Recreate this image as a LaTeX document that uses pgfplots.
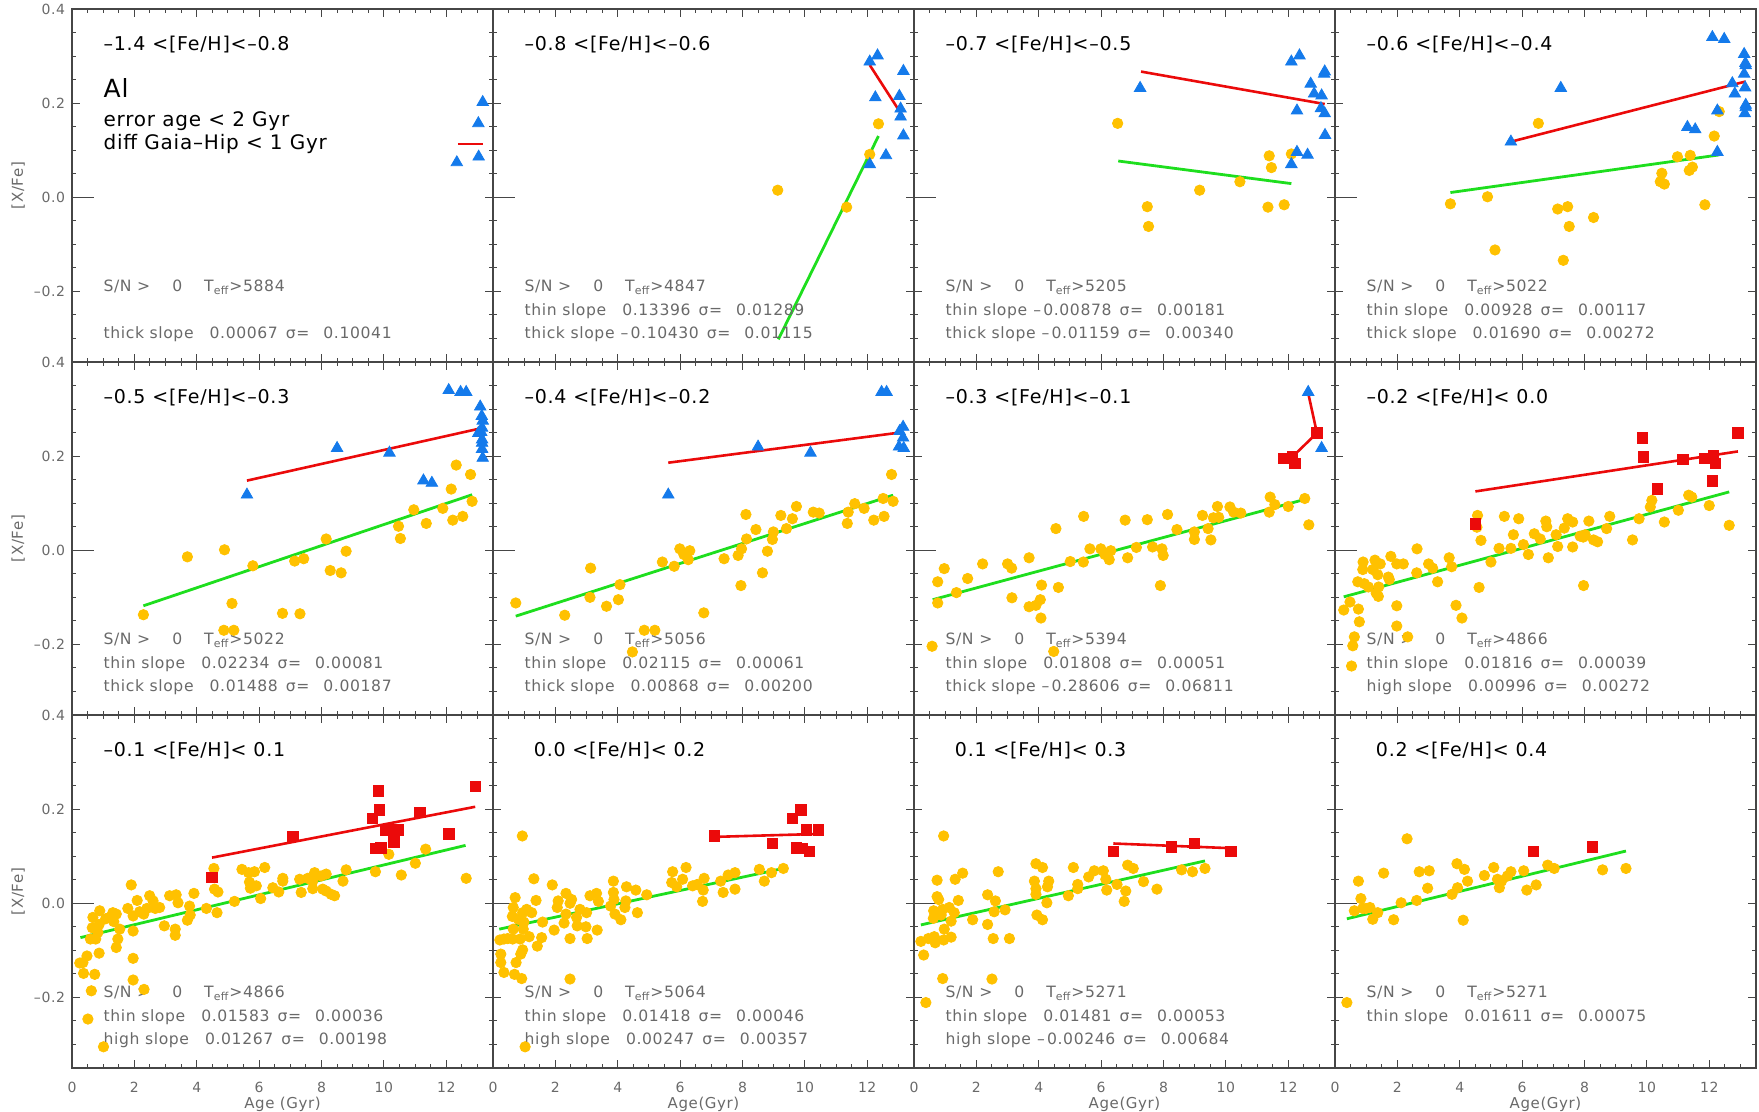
\documentclass[border=0pt]{standalone}
\usepackage{fontspec}
\setmainfont{DejaVu Sans}[LetterSpace=4]
\usepackage{pgfplots}
\pgfplotsset{compat=1.18}
\definecolor{cyel}{RGB}{255,193,0}
\definecolor{cblu}{RGB}{20,122,235}
\definecolor{cred}{RGB}{235,10,10}
\definecolor{cgrn}{RGB}{30,222,30}
\definecolor{ctxt}{RGB}{105,105,105}
\definecolor{axgray}{RGB}{70,70,70}
\newcommand{\pv}[1]{\makebox[5pt]{}#1}
\newcommand{\nv}[1]{\makebox[5pt][l]{–}#1}
\newcommand{\snl}[1]{S/N >\hspace{11pt}0\hspace{11pt}T\textsubscript{eff}>#1}
\newcommand{\slp}[3]{#1 slope\hspace{3pt}#2\hspace{4pt}σ=\hspace{7pt}#3}
\tikzset{
 ttl/.style={anchor=west, font=\fontsize{9.5}{11}\selectfont, text=black, inner sep=0pt},
 inf/.style={anchor=west, font=\fontsize{7.8}{9}\selectfont, text=ctxt, inner sep=0pt},
}
\pgfplotsset{
 panel/.style={
  scale only axis, width=210.5pt, height=176.5pt,
  xmin=0, xmax=13.5, ymin=-0.35, ymax=0.4,
  xtick={0,2,4,6,8,10,12},
  minor xtick={0.5,1,1.5,2.5,3,3.5,4.5,5,5.5,6.5,7,7.5,8.5,9,9.5,10.5,11,11.5,12.5,13,13.5},
  ytick={-0.2,0,0.2,0.4},
  minor ytick={-0.3,-0.25,-0.15,-0.1,-0.05,0.05,0.1,0.15,0.25,0.3,0.35},
  extra y ticks={0}, extra y tick labels={},
  extra y tick style={major tick length=11pt, ytick pos=left},
  tick align=inside, tick pos=both,
  xticklabel pos=lower, yticklabel pos=left,
  major tick length=4pt, minor tick length=2pt,
  axis line style={draw=axgray, line width=0.6pt},
  every tick/.append style={draw=axgray, line width=0.5pt},
  tick label style={font=\fontsize{7}{8}\selectfont, text=ctxt},
  xticklabel style={yshift=-3.5pt},
  label style={font=\fontsize{7.5}{9}\selectfont, text=ctxt},
  ylabel style={at={(axis description cs:-0.128,0.5)}, anchor=center},
  xlabel style={at={(axis description cs:0.5,0)}, anchor=center, yshift=-18pt},
  xticklabels={}, yticklabels={},
 },
 circ/.style={only marks, color=cyel, mark=*, mark size=2.6pt, mark options={solid, draw=cyel, fill=cyel}},
 tri/.style={only marks, color=cblu, mark=triangle*, mark size=3.3pt, mark options={solid, draw=cblu, fill=cblu}},
 sq/.style={only marks, color=cred, mark=square*, mark size=2.6pt, mark options={solid, draw=cred, fill=cred}},
 gl/.style={no marks, draw=cgrn, line width=1.4pt},
 rl/.style={no marks, draw=cred, line width=1.3pt},
 ylab/.style={yticklabels={–0.2,0.0,0.2,0.4}, ylabel={[X/Fe]}},
}
\begin{document}
\begin{tikzpicture}
\useasboundingbox (-36pt,4.5pt) rectangle (843.5pt,-551.5pt);
% ---------------- Row 1 ----------------
\begin{axis}[panel, ylab, at={(0pt,0pt)}, anchor=north west]
\addplot[tri] coordinates {(12.34,0.074) (13.03,0.157) (13.17,0.202) (13.04,0.086)};
\addplot[rl] coordinates {(12.37,0.113) (13.17,0.113)};
\node[ttl] at (axis cs:1.0,0.324) {–1.4 <[Fe/H]<–0.8};
\node[anchor=west, inner sep=0pt, font=\fontsize{12.5}{14}\selectfont] at (axis cs:1.0,0.232) {Al};
\node[anchor=west, inner sep=0pt, font=\fontsize{10}{12}\selectfont] at (axis cs:1.0,0.162) {error age < 2 Gyr};
\node[anchor=west, inner sep=0pt, font=\fontsize{10}{12}\selectfont] at (axis cs:1.0,0.113) {diff Gaia–Hip < 1 Gyr};
\node[inf] at (axis cs:1.0,-0.191) {\snl{5884}};
\node[inf] at (axis cs:1.0,-0.290) {\slp{thick}{\pv{0.00067}}{0.10041}};
\end{axis}
\begin{axis}[panel, at={(210.5pt,0pt)}, anchor=north west]
\addplot[circ] coordinates {(12.36,0.156) (12.08,0.091) (9.13,0.015) (11.34,-0.021)};
\addplot[tri] coordinates {(12.08,0.288) (12.33,0.301) (13.16,0.268) (12.26,0.212) (13.03,0.215) (13.07,0.188) (13.07,0.171) (13.16,0.131) (12.60,0.089) (12.08,0.070)};
\addplot[gl] coordinates {(9.15,-0.302) (12.36,0.130)};
\addplot[rl] coordinates {(12.08,0.281) (13.16,0.170)};
\node[ttl] at (axis cs:1.0,0.324) {–0.8 <[Fe/H]<–0.6};
\node[inf] at (axis cs:1.0,-0.191) {\snl{4847}};
\node[inf] at (axis cs:1.0,-0.242) {\slp{thin}{\pv{0.13396}}{0.01289}};
\node[inf] at (axis cs:1.0,-0.290) {\slp{thick}{\nv{0.10430}}{0.01115}};
\end{axis}
\begin{axis}[panel, at={(421pt,0pt)}, anchor=north west]
\addplot[circ] coordinates {(6.53,0.157) (11.39,0.088) (12.10,0.092) (11.46,0.063) (10.45,0.033) (9.16,0.015) (7.48,-0.020) (7.52,-0.062) (11.35,-0.021) (11.87,-0.016)};
\addplot[tri] coordinates {(12.10,0.288) (12.36,0.301) (13.15,0.262) (13.17,0.267) (12.72,0.241) (12.83,0.220) (13.07,0.216) (12.28,0.184) (13.05,0.189) (13.17,0.178) (13.18,0.132) (12.28,0.096) (12.62,0.090) (12.10,0.070) (7.25,0.232)};
\addplot[gl] coordinates {(6.55,0.077) (12.10,0.029)};
\addplot[rl] coordinates {(7.28,0.267) (13.17,0.198)};
\node[ttl] at (axis cs:1.0,0.324) {–0.7 <[Fe/H]<–0.5};
\node[inf] at (axis cs:1.0,-0.191) {\snl{5205}};
\node[inf] at (axis cs:1.0,-0.242) {\slp{thin}{\nv{0.00878}}{0.00181}};
\node[inf] at (axis cs:1.0,-0.290) {\slp{thick}{\nv{0.01159}}{0.00340}};
\end{axis}
\begin{axis}[panel, at={(631.5pt,0pt)}, anchor=north west]
\addplot[circ] coordinates {(6.52,0.157) (12.32,0.182) (12.16,0.130) (10.98,0.086) (11.39,0.089) (11.36,0.057) (11.46,0.064) (10.48,0.051) (10.43,0.033) (10.56,0.028) (11.86,-0.016) (3.70,-0.014) (4.89,0.001) (7.14,-0.025) (7.46,-0.020) (7.51,-0.062) (8.29,-0.043) (5.13,-0.112) (7.32,-0.134)};
\addplot[tri] coordinates {(12.10,0.340) (12.48,0.336) (13.12,0.304) (13.16,0.285) (13.17,0.280) (13.12,0.262) (12.74,0.242) (13.15,0.233) (12.82,0.220) (13.17,0.196) (13.17,0.191) (13.14,0.178) (12.26,0.184) (11.30,0.149) (11.55,0.144) (12.26,0.096) (7.24,0.232) (5.64,0.118)};
\addplot[gl] coordinates {(3.70,0.010) (12.32,0.090)};
\addplot[rl] coordinates {(5.64,0.118) (13.17,0.246)};
\node[ttl] at (axis cs:1.0,0.324) {–0.6 <[Fe/H]<–0.4};
\node[inf] at (axis cs:1.0,-0.191) {\snl{5022}};
\node[inf] at (axis cs:1.0,-0.242) {\slp{thin}{\pv{0.00928}}{0.00117}};
\node[inf] at (axis cs:1.0,-0.290) {\slp{thick}{\pv{0.01690}}{0.00272}};
\end{axis}
% ---------------- Row 2 ----------------
\begin{axis}[panel, ylab, at={(0pt,-176.5pt)}, anchor=north west]
\addplot[circ] coordinates {(12.32,0.181) (12.78,0.161) (12.16,0.130) (12.83,0.104) (11.89,0.089) (10.96,0.086) (11.36,0.057) (12.21,0.064) (12.53,0.072) (10.47,0.051) (10.53,0.025) (8.15,0.024) (8.79,-0.002) (8.28,-0.043) (8.63,-0.048) (7.14,-0.023) (7.43,-0.018) (5.80,-0.033) (4.89,0.001) (3.70,-0.014) (5.13,-0.113) (2.29,-0.137) (6.75,-0.134) (7.31,-0.135) (4.87,-0.170) (5.19,-0.170)};
\addplot[tri] coordinates {(12.08,0.340) (12.46,0.336) (12.64,0.336) (13.09,0.305) (13.14,0.285) (13.17,0.275) (13.15,0.260) (13.12,0.251) (13.03,0.249) (13.15,0.235) (13.15,0.228) (13.15,0.215) (13.17,0.196) (8.50,0.217) (10.18,0.207) (11.27,0.148) (11.54,0.143) (5.61,0.118)};
\addplot[gl] coordinates {(2.29,-0.118) (12.83,0.118)};
\addplot[rl] coordinates {(5.61,0.148) (13.17,0.260)};
\node[ttl] at (axis cs:1.0,0.324) {–0.5 <[Fe/H]<–0.3};
\node[inf] at (axis cs:1.0,-0.191) {\snl{5022}};
\node[inf] at (axis cs:1.0,-0.242) {\slp{thin}{\pv{0.02234}}{0.00081}};
\node[inf] at (axis cs:1.0,-0.290) {\slp{thick}{\pv{0.01488}}{0.00187}};
\end{axis}
\begin{axis}[panel, at={(210.5pt,-176.5pt)}, anchor=north west]
\addplot[circ] coordinates {(12.78,0.161) (12.51,0.110) (12.83,0.104) (11.60,0.099) (11.39,0.081) (11.90,0.089) (11.36,0.057) (12.21,0.064) (12.54,0.072) (9.73,0.093) (10.27,0.081) (10.46,0.079) (9.23,0.074) (9.60,0.067) (9.41,0.046) (8.99,0.039) (8.96,0.023) (8.11,0.076) (8.43,0.044) (8.13,0.024) (7.97,0.003) (7.86,-0.011) (7.41,-0.018) (8.80,-0.002) (8.64,-0.048) (7.95,-0.075) (5.99,0.003) (6.31,-0.001) (6.12,-0.009) (6.26,-0.020) (5.81,-0.034) (5.43,-0.025) (6.76,-0.133) (4.07,-0.073) (4.02,-0.105) (3.13,-0.038) (3.11,-0.100) (3.64,-0.119) (2.30,-0.138) (0.73,-0.112) (4.85,-0.170) (5.19,-0.170) (4.47,-0.216)};
\addplot[tri] coordinates {(12.46,0.336) (12.62,0.336) (13.15,0.262) (13.04,0.253) (13.15,0.239) (13.02,0.220) (13.17,0.217) (8.50,0.220) (10.18,0.207) (5.62,0.118)};
\addplot[gl] coordinates {(0.73,-0.140) (12.83,0.117)};
\addplot[rl] coordinates {(5.62,0.186) (13.15,0.251)};
\node[ttl] at (axis cs:1.0,0.324) {–0.4 <[Fe/H]<–0.2};
\node[inf] at (axis cs:1.0,-0.191) {\snl{5056}};
\node[inf] at (axis cs:1.0,-0.242) {\slp{thin}{\pv{0.02115}}{0.00061}};
\node[inf] at (axis cs:1.0,-0.290) {\slp{thick}{\pv{0.00868}}{0.00200}};
\end{axis}
\begin{axis}[panel, at={(421pt,-176.5pt)}, anchor=north west]
\addplot[circ] coordinates {(11.42,0.113) (11.57,0.097) (12.53,0.110) (12.00,0.093) (11.39,0.081) (12.66,0.054) (9.73,0.093) (10.13,0.092) (10.25,0.081) (10.48,0.079) (9.25,0.074) (9.60,0.069) (9.77,0.070) (9.43,0.046) (9.52,0.022) (8.99,0.039) (8.99,0.023) (8.43,0.044) (8.13,0.076) (7.48,0.065) (6.77,0.064) (5.44,0.072) (4.55,0.046) (7.13,0.006) (7.65,0.007) (7.95,0.003) (7.99,-0.011) (7.90,-0.075) (6.85,-0.016) (5.99,0.003) (6.31,-0.001) (6.12,-0.009) (6.26,-0.020) (5.64,0.003) (5.43,-0.025) (5.01,-0.024) (4.63,-0.079) (4.09,-0.074) (4.05,-0.105) (3.91,-0.117) (3.69,-0.120) (4.07,-0.144) (3.69,-0.016) (3.13,-0.038) (3.00,-0.029) (3.14,-0.101) (2.20,-0.029) (1.72,-0.060) (1.36,-0.090) (0.97,-0.039) (0.76,-0.067) (0.76,-0.112) (0.58,-0.204) (4.48,-0.215)};
\addplot[tri] coordinates {(12.64,0.336) (13.07,0.217)};
\addplot[sq] coordinates {(11.85,0.195) (12.14,0.200) (12.21,0.184) (12.92,0.249)};
\addplot[gl] coordinates {(0.60,-0.105) (12.64,0.110)};
\addplot[rl] coordinates {(12.64,0.334) (12.92,0.249)};
\addplot[rl] coordinates {(12.00,0.190) (12.92,0.249)};
\node[ttl] at (axis cs:1.0,0.324) {–0.3 <[Fe/H]<–0.1};
\node[inf] at (axis cs:1.0,-0.191) {\snl{5394}};
\node[inf] at (axis cs:1.0,-0.242) {\slp{thin}{\pv{0.01808}}{0.00051}};
\node[inf] at (axis cs:1.0,-0.290) {\slp{thick}{\nv{0.28606}}{0.06811}};
\end{axis}
\begin{axis}[panel, at={(631.5pt,-176.5pt)}, anchor=north west]
\addplot[circ] coordinates {(11.34,0.117) (11.44,0.113) (10.16,0.106) (10.11,0.092) (12.00,0.095) (11.01,0.085) (12.64,0.053) (10.56,0.060) (9.75,0.067) (9.54,0.022) (8.81,0.072) (8.71,0.046) (8.14,0.062) (8.29,0.022) (8.42,0.018) (7.96,0.028) (8.02,0.033) (7.86,0.030) (7.62,0.060) (7.46,0.067) (7.35,0.047) (7.62,0.007) (7.97,-0.075) (7.14,0.008) (7.09,0.033) (6.76,0.062) (6.79,0.050) (6.84,-0.016) (6.58,0.024) (6.39,0.035) (6.20,-0.009) (6.04,0.012) (5.72,0.033) (5.64,0.004) (5.26,0.004) (5.00,-0.025) (5.43,0.072) (5.89,0.067) (4.57,0.074) (4.55,0.049) (4.68,0.021) (4.62,-0.079) (3.74,-0.035) (3.66,-0.016) (3.29,-0.067) (3.13,-0.038) (3.00,-0.029) (2.63,0.003) (2.62,-0.048) (1.98,-0.029) (2.19,-0.029) (1.79,-0.013) (1.71,-0.057) (1.74,-0.062) (1.45,-0.029) (1.28,-0.021) (1.21,-0.041) (0.90,-0.025) (0.89,-0.041) (0.73,-0.067) (0.94,-0.071) (1.07,-0.078) (1.40,-0.078) (1.39,-0.098) (1.32,-0.091) (1.37,-0.052) (0.48,-0.110) (0.28,-0.127) (0.75,-0.125) (0.78,-0.152) (1.98,-0.118) (1.98,-0.161) (2.33,-0.184) (0.62,-0.184) (0.57,-0.203) (0.53,-0.246) (3.88,-0.117) (4.07,-0.144)};
\addplot[sq] coordinates {(9.85,0.239) (9.88,0.198) (12.92,0.249) (11.15,0.193) (11.84,0.195) (12.14,0.201) (12.19,0.184) (12.10,0.147) (10.34,0.130) (4.50,0.056)};
\addplot[gl] coordinates {(0.28,-0.099) (12.64,0.124)};
\addplot[rl] coordinates {(4.50,0.125) (12.92,0.210)};
\node[ttl] at (axis cs:1.0,0.324) {–0.2 <[Fe/H]< 0.0};
\node[inf] at (axis cs:1.0,-0.191) {\snl{4866}};
\node[inf] at (axis cs:1.0,-0.242) {\slp{thin}{\pv{0.01816}}{0.00039}};
\node[inf] at (axis cs:1.0,-0.290) {\slp{high}{\pv{0.00996}}{0.00272}};
\end{axis}
% ---------------- Row 3 ----------------
\begin{axis}[panel, ylab, at={(0pt,-353pt)}, anchor=north west, xticklabels={0,2,4,6,8,10,12}, xlabel={Age (Gyr)}]
\addplot[circ] coordinates {(11.34,0.115) (10.16,0.104) (11.01,0.085) (10.56,0.060) (9.73,0.067) (12.64,0.053) (8.79,0.071) (8.69,0.047) (8.15,0.062) (7.99,0.058) (7.78,0.065) (7.72,0.047) (7.56,0.053) (7.30,0.051) (7.72,0.031) (7.35,0.023) (8.04,0.030) (8.15,0.026) (8.31,0.019) (8.42,0.016) (6.76,0.053) (6.76,0.047) (6.44,0.033) (6.63,0.024) (6.18,0.076) (5.85,0.067) (5.66,0.065) (5.69,0.045) (5.72,0.032) (5.91,0.037) (6.05,0.010) (5.45,0.072) (5.21,0.004) (4.68,0.024) (4.57,0.030) (4.65,-0.020) (4.31,-0.011) (4.55,0.074) (3.91,0.021) (3.77,-0.006) (3.79,-0.025) (3.70,-0.036) (3.34,0.018) (3.13,0.016) (3.40,0.001) (2.96,-0.048) (3.31,-0.055) (3.31,-0.068) (2.60,0.005) (2.49,0.016) (2.67,-0.011) (2.81,-0.009) (2.40,-0.011) (2.30,-0.023) (2.17,-0.018) (2.09,0.006) (1.90,0.039) (1.96,-0.027) (1.96,-0.059) (1.96,-0.117) (1.96,-0.163) (2.31,-0.183) (1.79,-0.011) (1.42,-0.023) (1.53,-0.055) (1.34,-0.039) (1.31,-0.020) (1.21,-0.030) (1.08,-0.033) (0.89,-0.016) (0.87,-0.045) (0.67,-0.030) (0.65,-0.052) (0.83,-0.062) (0.76,-0.076) (0.59,-0.076) (0.48,-0.112) (0.35,-0.126) (0.25,-0.127) (0.37,-0.149) (0.62,-0.186) (0.51,-0.246) (1.01,-0.305) (0.87,-0.106) (0.73,-0.151) (1.47,-0.076) (1.42,-0.094)};
\addplot[sq] coordinates {(9.83,0.239) (9.86,0.198) (9.63,0.180) (10.07,0.156) (10.45,0.156) (10.32,0.130) (9.73,0.117) (9.91,0.118) (11.16,0.193) (12.08,0.147) (12.93,0.248) (7.08,0.142) (4.49,0.055)};
\addplot[gl] coordinates {(0.27,-0.073) (12.62,0.123)};
\addplot[rl] coordinates {(4.49,0.097) (12.93,0.205)};
\node[ttl] at (axis cs:1.0,0.324) {–0.1 <[Fe/H]< 0.1};
\node[inf] at (axis cs:1.0,-0.191) {\snl{4866}};
\node[inf] at (axis cs:1.0,-0.242) {\slp{thin}{\pv{0.01583}}{0.00036}};
\node[inf] at (axis cs:1.0,-0.290) {\slp{high}{\pv{0.01267}}{0.00198}};
\end{axis}
\begin{axis}[panel, at={(210.5pt,-353pt)}, anchor=north west, xticklabels={0,2,4,6,8,10,12}, xlabel={Age(Gyr)}]
\addplot[circ] coordinates {(0.94,0.143) (9.31,0.074) (8.54,0.072) (8.93,0.065) (8.70,0.047) (7.76,0.065) (7.54,0.060) (7.30,0.047) (7.38,0.023) (7.76,0.030) (6.77,0.053) (6.74,0.028) (6.72,0.004) (6.19,0.076) (5.76,0.067) (6.08,0.051) (5.73,0.044) (5.89,0.035) (6.40,0.037) (6.55,0.040) (4.93,0.018) (4.58,0.028) (4.63,-0.020) (4.28,0.035) (4.26,0.005) (4.23,-0.009) (4.10,-0.035) (3.86,0.047) (3.86,0.023) (3.88,0.008) (3.77,-0.006) (3.91,-0.023) (3.32,0.021) (3.38,0.004) (3.11,0.016) (3.00,-0.020) (3.34,-0.057) (3.02,-0.075) (2.98,-0.050) (2.79,-0.013) (2.68,-0.030) (2.52,0.008) (2.47,0.000) (2.34,0.021) (2.34,-0.023) (2.28,-0.042) (2.09,0.005) (2.06,-0.009) (1.96,-0.057) (1.90,0.039) (1.38,0.006) (1.31,0.052) (1.24,-0.020) (1.08,-0.013) (0.95,-0.020) (0.99,-0.040) (0.71,0.012) (0.65,-0.009) (0.62,-0.028) (0.65,-0.055) (0.81,-0.034) (0.97,-0.055) (0.87,-0.076) (1.16,-0.071) (1.42,-0.091) (0.47,-0.075) (0.22,-0.078) (0.63,-0.076) (0.35,-0.076) (0.25,-0.108) (0.25,-0.126) (0.74,-0.126) (0.89,-0.108) (0.95,-0.099) (0.35,-0.147) (0.69,-0.151) (0.92,-0.160) (1.56,-0.073) (2.47,-0.075) (2.47,-0.161) (1.03,-0.305) (2.70,-0.048) (1.59,-0.040)};
\addplot[sq] coordinates {(9.87,0.198) (9.60,0.180) (10.05,0.156) (10.43,0.156) (7.09,0.143) (8.96,0.127) (9.73,0.118) (9.93,0.117) (10.14,0.110)};
\addplot[gl] coordinates {(0.20,-0.055) (9.31,0.074)};
\addplot[rl] coordinates {(7.09,0.141) (10.27,0.147)};
\node[ttl] at (axis cs:1.3,0.324) {0.0 <[Fe/H]< 0.2};
\node[inf] at (axis cs:1.0,-0.191) {\snl{5064}};
\node[inf] at (axis cs:1.0,-0.242) {\slp{thin}{\pv{0.01418}}{0.00046}};
\node[inf] at (axis cs:1.0,-0.290) {\slp{high}{\pv{0.00247}}{0.00357}};
\end{axis}
\begin{axis}[panel, at={(421pt,-353pt)}, anchor=north west, xticklabels={0,2,4,6,8,10,12}, xlabel={Age(Gyr)}]
\addplot[circ] coordinates {(0.95,0.143) (9.33,0.074) (8.93,0.067) (8.58,0.071) (7.79,0.030) (7.36,0.046) (7.03,0.074) (6.85,0.081) (6.79,0.026) (6.74,0.004) (6.51,0.040) (6.18,0.028) (6.15,0.051) (6.07,0.069) (5.78,0.069) (5.60,0.056) (5.25,0.040) (5.25,0.031) (5.11,0.076) (4.95,0.016) (4.32,0.047) (4.28,0.035) (4.26,0.001) (4.12,-0.035) (3.94,-0.025) (4.12,0.076) (3.91,0.084) (3.86,0.047) (3.91,0.031) (3.91,0.019) (2.70,0.067) (2.36,0.018) (2.61,0.005) (2.57,-0.018) (2.92,-0.014) (2.36,-0.045) (2.54,-0.075) (3.06,-0.075) (1.88,-0.035) (1.56,0.064) (1.42,0.006) (1.32,0.051) (1.29,-0.020) (1.19,-0.038) (1.13,-0.009) (0.92,-0.013) (0.87,-0.025) (0.74,0.049) (0.74,0.014) (0.79,0.008) (0.63,-0.016) (0.62,-0.032) (0.97,-0.055) (0.95,-0.078) (1.19,-0.072) (0.65,-0.071) (0.68,-0.084) (0.46,-0.075) (0.22,-0.081) (0.31,-0.110) (0.92,-0.160) (2.50,-0.161) (0.38,-0.211)};
\addplot[sq] coordinates {(6.39,0.110) (8.26,0.120) (8.99,0.127) (10.16,0.110)};
\addplot[gl] coordinates {(0.22,-0.046) (9.33,0.090)};
\addplot[rl] coordinates {(6.39,0.127) (10.16,0.117)};
\node[ttl] at (axis cs:1.3,0.324) {0.1 <[Fe/H]< 0.3};
\node[inf] at (axis cs:1.0,-0.191) {\snl{5271}};
\node[inf] at (axis cs:1.0,-0.242) {\slp{thin}{\pv{0.01481}}{0.00053}};
\node[inf] at (axis cs:1.0,-0.290) {\slp{high}{\nv{0.00246}}{0.00684}};
\end{axis}
\begin{axis}[panel, at={(631.5pt,-353pt)}, anchor=north west, xticklabels={0,2,4,6,8,10,12}, xlabel={Age(Gyr)}]
\addplot[circ] coordinates {(2.31,0.137) (9.33,0.074) (8.58,0.071) (7.03,0.074) (6.82,0.081) (6.45,0.039) (6.15,0.028) (6.05,0.069) (5.64,0.067) (5.53,0.058) (5.34,0.047) (5.27,0.033) (5.21,0.051) (5.09,0.076) (4.79,0.059) (4.25,0.047) (4.15,0.072) (3.91,0.084) (4.11,-0.036) (3.93,0.033) (3.75,0.019) (3.02,0.069) (2.97,0.032) (2.70,0.067) (2.62,0.006) (2.12,0.001) (1.88,-0.035) (1.56,0.064) (1.37,-0.020) (1.21,-0.034) (1.12,-0.009) (0.99,-0.011) (0.89,-0.011) (0.83,0.010) (0.75,0.047) (0.62,-0.016) (0.38,-0.211)};
\addplot[sq] coordinates {(6.37,0.110) (8.26,0.120)};
\addplot[gl] coordinates {(0.38,-0.033) (9.33,0.111)};
\node[ttl] at (axis cs:1.3,0.324) {0.2 <[Fe/H]< 0.4};
\node[inf] at (axis cs:1.0,-0.191) {\snl{5271}};
\node[inf] at (axis cs:1.0,-0.242) {\slp{thin}{\pv{0.01611}}{0.00075}};
\end{axis}
\end{tikzpicture}
\end{document}
